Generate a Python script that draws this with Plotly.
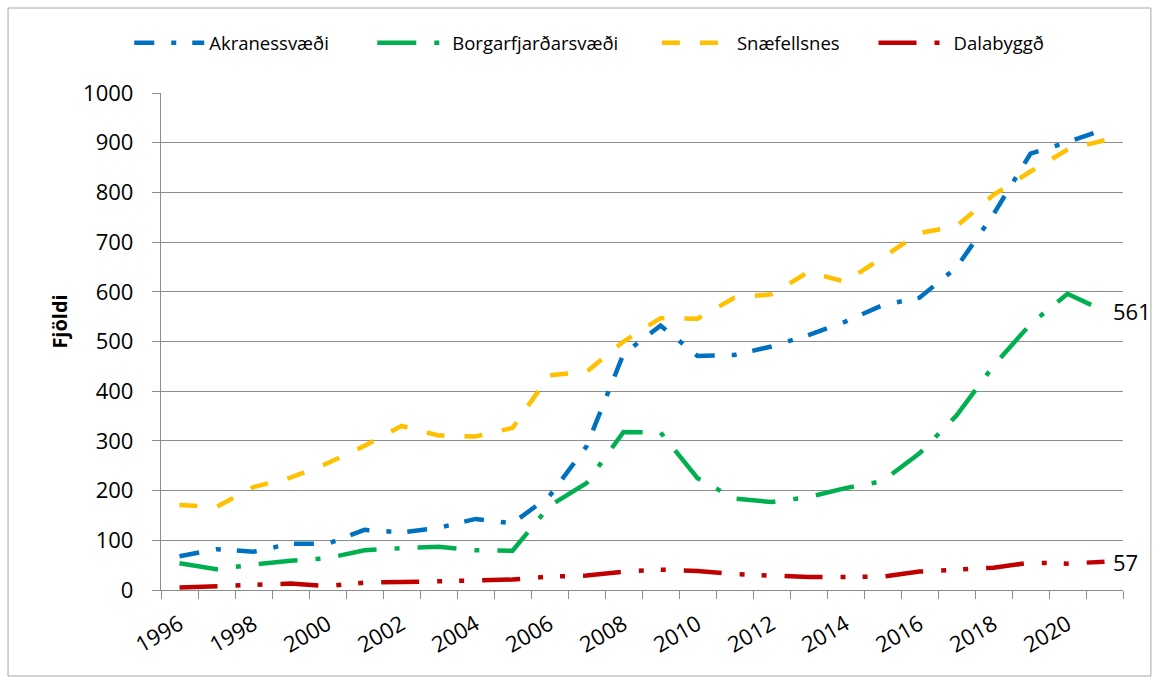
import plotly.graph_objects as go

years = list(range(1996, 2022))

akranes = [68, 82, 77, 93, 93, 121, 116, 125, 143, 134, 189, 289, 475, 532,
           471, 473, 490, 513, 540, 573, 588, 649, 756, 878, 901, 927]
borgarfjordur = [54, 42, 51, 59, 64, 80, 84, 87, 80, 79, 169, 215, 318, 317,
                 225, 184, 177, 187, 205, 219, 275, 351, 451, 535, 596, 561]
snaefellsnes = [171, 167, 207, 226, 255, 290, 330, 311, 309, 326, 432, 439, 500, 547,
                546, 588, 595, 640, 620, 668, 718, 732, 795, 842, 886, 905]
dalabyggd = [5, 7, 9, 13, 8, 15, 16, 17, 19, 21, 27, 29, 37, 41,
             38, 32, 29, 26, 26, 27, 37, 41, 45, 55, 53, 57]

series_names = ["Akranessvæði", "Borgarfjarðarsvæði", "Snæfellsnes", "Dalabyggð"]
series_values = [akranes, borgarfjordur, snaefellsnes, dalabyggd]
series_colors = ["#0070C0", "#00B050", "#FFC000", "#C00000"]
series_dash = ["20px,17px,5px,16px",
               "39px,18px,5px,18px",
               "18px,20px",
               "38px,18px,5px,17px,5px,18px"]
# trailing non-breaking space padding between legend entries
legend_pad = ["\u00a0" * 8, "\u00a0" * 7, "\u00a0" * 6, ""]

tick_years = years[::2][:13]
tick_labels = [str(y) for y in tick_years]

FONT = "Open Sans"
GRID = "#8C8C8C"

fig = go.Figure()
for name, vals, col, dash, pad in zip(series_names, series_values, series_colors,
                                      series_dash, legend_pad):
    fig.add_trace(go.Scatter(
        x=years, y=vals, name=name + pad, mode="lines",
        line=dict(color=col, width=4.5, dash=dash),
        hovertemplate=name + ": %{y}<extra>%{x}</extra>",
    ))

# end-of-series value labels
for vals in (borgarfjordur, dalabyggd):
    fig.add_annotation(x=years[-1], y=vals[-1], text=str(vals[-1]),
                       showarrow=False, xanchor="left", yanchor="middle",
                       xshift=6, font=dict(family=FONT, size=22, color="#000000"))

# y-axis title
fig.add_annotation(xref="paper", yref="paper", x=-0.105, y=0.54,
                   text="<b>Fjöldi</b>", textangle=-90, showarrow=False,
                   xanchor="center", yanchor="middle",
                   font=dict(family=FONT, size=20, color="#000000"))

# chart-area frame
fig.add_shape(type="rect", xref="paper", yref="paper",
              x0=-0.159, x1=1.029, y0=-0.173, y1=1.171,
              line=dict(color="#A6A6A6", width=1), fillcolor="rgba(0,0,0,0)",
              layer="below")

fig.update_layout(
    width=1159, height=677,
    margin=dict(l=161, r=36, t=93, b=87),
    paper_bgcolor="white", plot_bgcolor="white",
    font=dict(family=FONT, size=22, color="#000000"),
    showlegend=True,
    legend=dict(orientation="h", x=-0.033, xanchor="left", y=1.10, yanchor="middle",
                font=dict(family=FONT, size=18.5), itemwidth=70,
                bgcolor="rgba(0,0,0,0)", traceorder="normal"),
    xaxis=dict(
        range=[years[0] - 0.5, years[-1] + 0.5], automargin=False,
        tickmode="array", tickvals=tick_years, ticktext=tick_labels,
        tickangle=-30, ticks="", showgrid=False, zeroline=False,
        showline=True, linecolor=GRID, linewidth=1.3,
        ticklabelstandoff=12,
        tickfont=dict(family=FONT, size=22),
        minor=dict(tickmode="array",
                   tickvals=[y - 0.5 for y in years] + [years[-1] + 0.5],
                   ticks="outside", ticklen=8, tickcolor=GRID, tickwidth=1.3,
                   showgrid=False),
    ),
    yaxis=dict(
        range=[0, 1000], dtick=100, tick0=0, automargin=False,
        ticks="outside", ticklen=8, tickcolor=GRID, tickwidth=1.3,
        showgrid=True, gridcolor=GRID, gridwidth=1.3, zeroline=False,
        showline=True, linecolor=GRID, linewidth=1.3,
        ticklabelstandoff=14,
        tickfont=dict(family=FONT, size=22),
    ),
)

fig.write_html("out.html")
